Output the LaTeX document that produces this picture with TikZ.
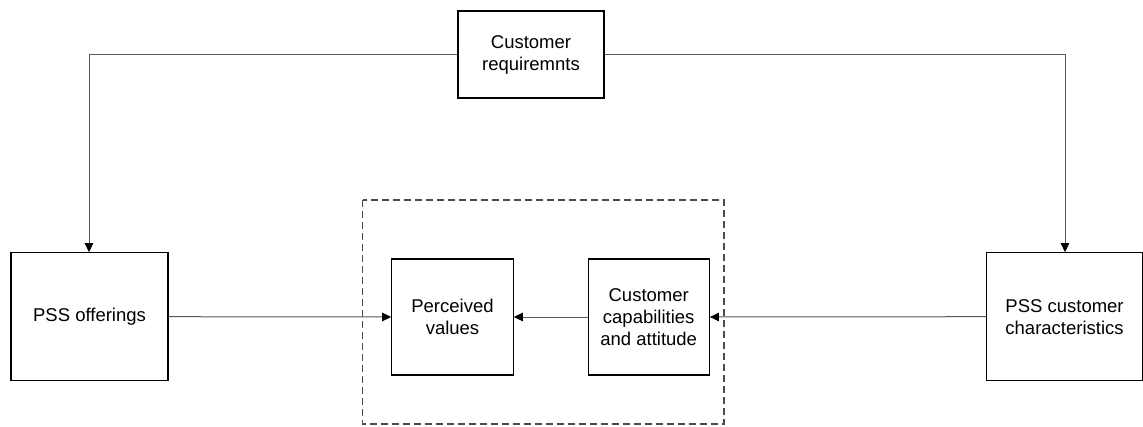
\documentclass[tikz,border=0pt]{standalone}
\usepackage{fontspec}
\setmainfont{Liberation Sans}
\usetikzlibrary{arrows.meta}
\tikzset{
  box/.style={draw=black, line width=1.1pt, fill=white, align=center, inner sep=0pt,
    font=\fontsize{18.5pt}{22pt}\selectfont},
  link/.style={draw=black!65, line width=1pt,
    -{Triangle[length=9pt,width=8.5pt,color=black]}},
  group/.style={draw=black!70, line width=1.1pt, dash pattern=on 7pt off 4pt},
}
\begin{document}
\begin{tikzpicture}[x=1pt,y=-1pt]
\useasboundingbox (0,0) rectangle (1143,426);
% dashed group around the two inner boxes
\draw[group] (362.7,200) rectangle (724,424);
% boxes (width, height, centre)
\node[box, minimum width=146pt, minimum height=87pt] (req) at (531,54.5) {Customer\\requiremnts};
\node[box, minimum width=157pt, minimum height=128pt] (off) at (89.5,316.7) {PSS offerings};
\node[box, minimum width=121.6pt, minimum height=116pt] (pv) at (452.5,317) {Perceived\\values};
\node[box, minimum width=121.3pt, minimum height=116pt] (cap) at (648.7,317) {Customer\\capabilities\\and attitude};
\node[box, minimum width=156pt, minimum height=128pt, anchor=west] (pc) at (986,316.7) {PSS customer\\characteristics};
% corner points of the top connectors
\coordinate (lc) at (89,54.5);
\coordinate (rc) at (1065,54.5);
% connectors
\draw[link] (req.west) -- (lc) -- (lc |- off.north);
\draw[link] (req.east) -- (rc) -- (rc |- pc.north);
\draw[link] (off.east) -- (pv.west);
\draw[link] (cap.west) -- (pv.east);
\draw[link] (pc.west) -- (cap.east);
\end{tikzpicture}
\end{document}
